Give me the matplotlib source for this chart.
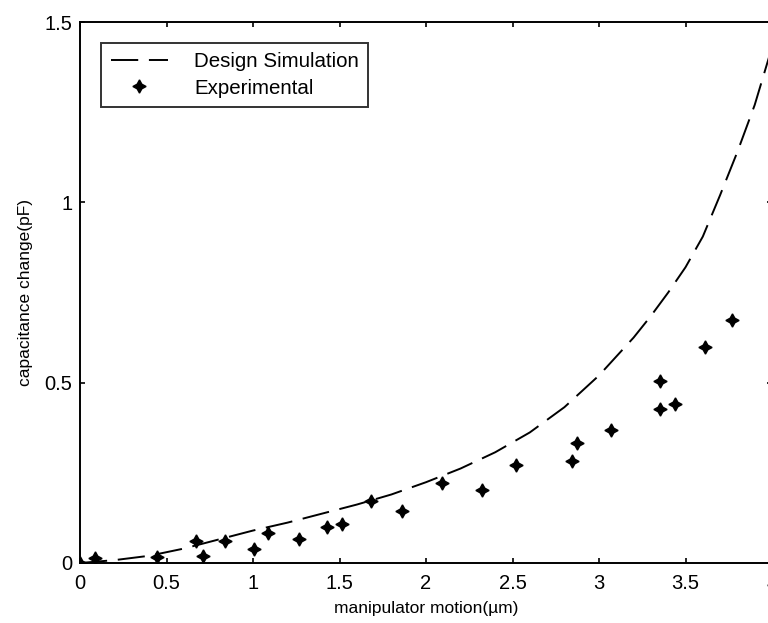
import matplotlib
matplotlib.use("Agg")
import matplotlib.pyplot as plt

# design simulation curve
sim_x = [0.0, 0.2, 0.4, 0.6, 0.8, 1.0, 1.2, 1.4, 1.6, 1.8, 2.0, 2.2, 2.4,
         2.6, 2.8, 3.0, 3.2, 3.3, 3.4, 3.5, 3.6, 3.7, 3.8, 3.9, 4.0]
sim_y = [0.0, 0.008, 0.02, 0.04, 0.065, 0.09, 0.112, 0.137, 0.162, 0.19,
         0.224, 0.262, 0.307, 0.362, 0.432, 0.52, 0.625, 0.685, 0.75, 0.82,
         0.905, 1.02, 1.14, 1.27, 1.43]

# experimental points
exp_x = [0.0, 0.087, 0.443, 0.67, 0.709, 0.838, 1.006, 1.089, 1.268, 1.426,
         1.512, 1.68, 1.863, 2.094, 2.322, 2.518, 2.842, 2.871, 3.067,
         3.353, 3.439, 3.353, 3.61, 3.767]
exp_y = [0.0, 0.014, 0.017, 0.061, 0.019, 0.062, 0.039, 0.084, 0.066, 0.10,
         0.108, 0.173, 0.145, 0.221, 0.202, 0.273, 0.283, 0.332, 0.370,
         0.427, 0.440, 0.505, 0.60, 0.675]

x_ticks = [0, 0.5, 1, 1.5, 2, 2.5, 3, 3.5, 4]
x_labels = ["0", "0.5", "1", "1.5", "2", "2.5", "3", "3.5", "4"]
y_ticks = [0, 0.5, 1, 1.5]
y_labels = ["0", "0.5", "1", "1.5"]

plt.rcParams["font.family"] = ["Liberation Sans", "DejaVu Sans"]

fig = plt.figure(figsize=(7.68, 6.23), dpi=100)
ax = fig.add_axes([80 / 768, 60 / 623, 692 / 768, 541 / 623])

line, = ax.plot(sim_x, sim_y, color="black", lw=1.4, label="Design Simulation")
line.set_dashes((14, 5.5))
ax.plot(exp_x, exp_y, linestyle="none", marker=(4, 1, 0), markersize=9.5,
        color="black", label="Experimental")

ax.set_xlim(0, 4)
ax.set_ylim(0, 1.5)
ax.set_xticks(x_ticks)
ax.set_xticklabels(x_labels)
ax.set_yticks(y_ticks)
ax.set_yticklabels(y_labels)
ax.tick_params(direction="in", length=3.6, width=1.2, top=True, right=True,
               labelsize=14.5)
ax.tick_params(axis="x", pad=8)
ax.tick_params(axis="y", pad=5.5)
for s in ax.spines.values():
    s.set_linewidth(1.4)

ax.set_xlabel("manipulator motion(\u00b5m)", fontsize=12.5, labelpad=6)
ax.set_ylabel("capacitance change(pF)", fontsize=12.5, labelpad=8)

leg = ax.legend(loc="upper left", bbox_to_anchor=(0.031, 0.961),
                fontsize=14.8, frameon=True, fancybox=False,
                handlelength=2.8, handletextpad=1.25, labelspacing=0.35,
                borderpad=0.45, borderaxespad=0)
leg.get_frame().set_edgecolor("black")
leg.get_frame().set_linewidth(1.4)

fig.savefig("out.png", dpi=100)
